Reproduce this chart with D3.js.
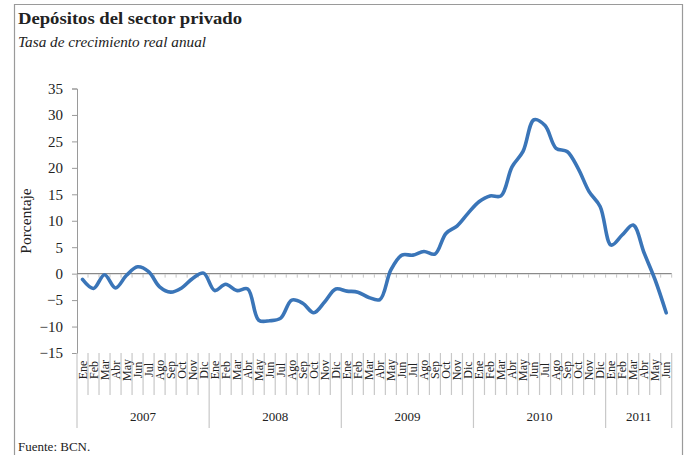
<!DOCTYPE html>
<html>
<head>
<meta charset="utf-8">
<script src="https://cdn.jsdelivr.net/npm/d3@7"></script>
<style>
  body { margin: 0; background: #fff; }
  text { font-family: "Liberation Serif", "DejaVu Serif", serif; fill: #222; }
</style>
</head>
<body>
<script>
//----------------------------------------- datos -------------------------------------------

var years = ["2007", "2008", "2009", "2010", "2011"];
var monthNames = ["Ene", "Feb", "Mar", "Abr", "May", "Jun", "Jul", "Ago", "Sep", "Oct", "Nov", "Dic"];
var monthsPerYear = [12, 12, 12, 12, 6];

// tasa de crecimiento real anual (%), Ene 2007 - Jun 2011
var values = [
  -1.1, -2.8, -0.2, -2.7, -0.3,  1.3,  0.4, -2.5, -3.5, -2.7, -0.9,  0.1,
  -3.2, -2.0, -3.2, -2.9, -8.8, -8.9, -8.4, -5.0, -5.6, -7.4, -5.3, -2.9,
  -3.3, -3.5, -4.5, -4.9,  0.7,  3.5,  3.5,  4.2,  3.7,  7.6,  9.0, 11.4,
  13.6, 14.7, 14.7, 20.2, 23.1, 29.1, 28.0, 23.7, 23.1, 19.9, 15.5, 12.7,
   5.4,  7.3,  9.2,  3.9, -1.2, -7.4
];

var yTicks = [-15, -10, -5, 0, 5, 10, 15, 20, 25, 30, 35];

//----------------------------------------- SVG ---------------------------------------------

var svg = d3.select("body")
  .append("svg")
  .attr("width", 687)
  .attr("height", 455);

var frame = "#9a9a9a";

// marco
svg.append("path")
  .attr("d", "M14.5,455 V4.5 H682.5 V455")
  .attr("fill", "none")
  .attr("stroke", frame)
  .attr("stroke-width", 1.2);

svg.append("text")
  .attr("x", 18).attr("y", 24)
  .attr("textLength", 224)
  .attr("lengthAdjust", "spacingAndGlyphs")
  .style("font-size", "17px")
  .style("font-weight", "bold")
  .text("Depósitos del sector privado");

svg.append("text")
  .attr("x", 18).attr("y", 47)
  .attr("textLength", 188)
  .attr("lengthAdjust", "spacingAndGlyphs")
  .style("font-size", "14.5px")
  .style("font-style", "italic")
  .text("Tasa de crecimiento real anual");

svg.append("text")
  .attr("x", 18).attr("y", 451)
  .style("font-size", "13px")
  .text("Fuente: BCN.");

//----------------------------------------- escalas -----------------------------------------

var labels = [];
years.forEach(function(y, k) {
  for (var m = 0; m < monthsPerYear[k]; m++) labels.push({ month: monthNames[m], year: y, first: m === 0 });
});

var x = d3.scaleBand()
  .domain(d3.range(values.length))
  .range([77, 671.7]);

var y = d3.scaleLinear()
  .domain([-15, 35])
  .range([353, 88.5]);

var bw = x.bandwidth();

//----------------------------------------- eje Y -------------------------------------------

var yAxis = svg.append("g")
  .attr("transform", "translate(77,0)")
  .call(d3.axisLeft(y).tickValues(yTicks).tickSize(5).tickPadding(9));

yAxis.select(".domain").attr("stroke", frame);
yAxis.selectAll(".tick line").attr("stroke", frame);
yAxis.selectAll(".tick text")
  .style("font-size", "15px")
  .style("font-family", "'Liberation Serif', serif")
  .attr("fill", "#222");

svg.append("text")
  .attr("transform", "translate(31,221) rotate(-90)")
  .attr("text-anchor", "middle")
  .style("font-size", "15.5px")
  .text("Porcentaje");

//----------------------------------------- linea cero --------------------------------------

var y0 = y(0);

svg.append("line")
  .attr("x1", 77).attr("x2", x.range()[1])
  .attr("y1", y0).attr("y2", y0)
  .attr("stroke", "#8a8a8a")
  .attr("stroke-width", 1.2);

svg.append("g")
  .selectAll("line")
  .data(d3.range(values.length + 1))
  .enter().append("line")
  .attr("x1", function(i) { return 77 + i * bw; })
  .attr("x2", function(i) { return 77 + i * bw; })
  .attr("y1", y0 + 0.5)
  .attr("y2", y0 + 4)
  .attr("stroke", "#c4c4c4");

//----------------------------------------- eje X (meses / años) ----------------------------

var bottom = y(-15);

svg.append("g")
  .selectAll("line")
  .data(d3.range(values.length + 1))
  .enter().append("line")
  .attr("x1", function(i) { return 77 + i * bw; })
  .attr("x2", function(i) { return 77 + i * bw; })
  .attr("y1", bottom)
  .attr("y2", function(i) {
    return (i === values.length || (labels[i] && labels[i].first)) ? 428 : 395;
  })
  .attr("stroke", "#c8c8c8")
  .attr("stroke-width", 1.2);

svg.append("g")
  .selectAll("text")
  .data(labels)
  .enter().append("text")
  .attr("transform", function(d, i) {
    return "translate(" + (x(i) + bw / 2) + ",370) rotate(-90)";
  })
  .attr("text-anchor", "middle")
  .attr("dy", "0.35em")
  .style("font-size", "12px")
  .text(function(d) { return d.month; });

var start = 0;
years.forEach(function(yr, k) {
  var n = monthsPerYear[k];
  svg.append("text")
    .attr("x", 77 + (start + n / 2) * bw)
    .attr("y", 421)
    .attr("text-anchor", "middle")
    .style("font-size", "13px")
    .text(yr);
  start += n;
});

//----------------------------------------- serie -------------------------------------------

var line = d3.line()
  .x(function(d, i) { return x(i) + bw / 2; })
  .y(function(d) { return y(d); })
  .curve(d3.curveCatmullRom.alpha(0.5));

svg.append("path")
  .datum(values)
  .attr("d", line)
  .attr("fill", "none")
  .attr("stroke", "#3a75b8")
  .attr("stroke-width", 3.6)
  .attr("stroke-linecap", "round")
  .attr("stroke-linejoin", "round");
</script>
</body>
</html>
